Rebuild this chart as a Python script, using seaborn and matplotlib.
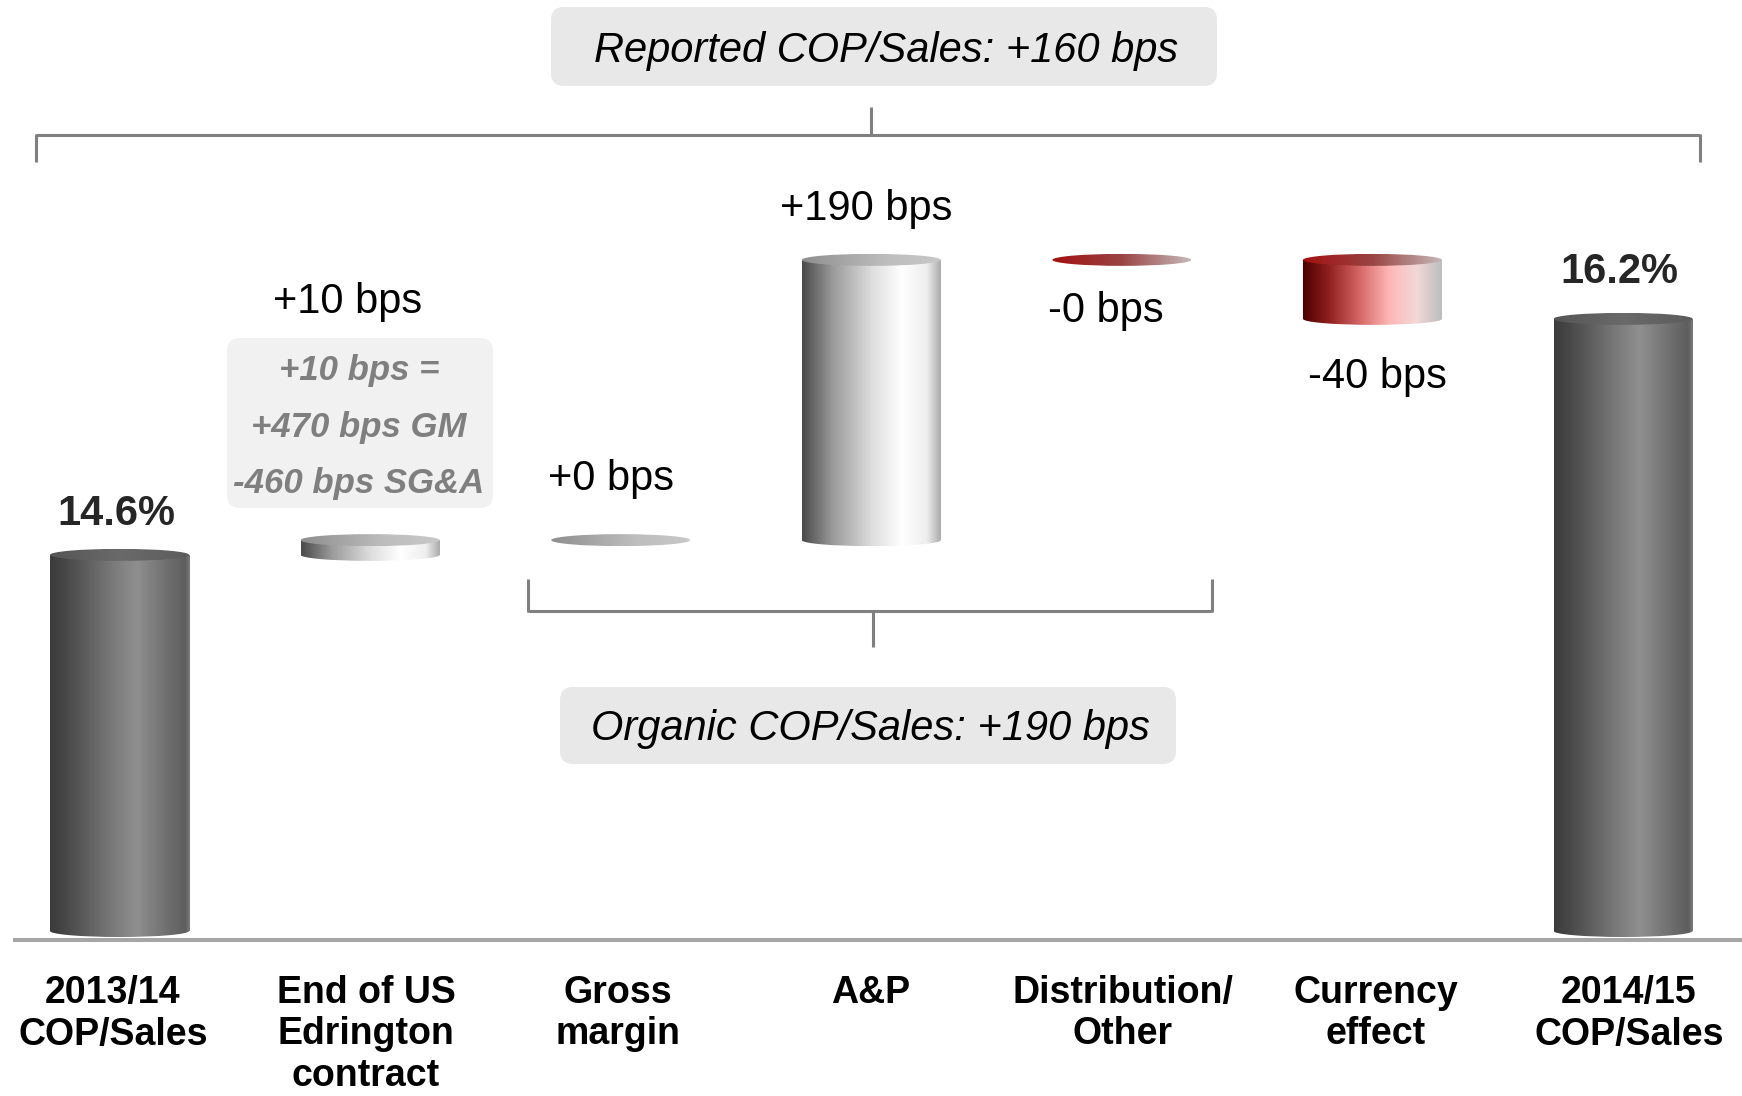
import numpy as np
import pandas as pd
import matplotlib
matplotlib.use("Agg")
import matplotlib.pyplot as plt
import seaborn as sns
from matplotlib.colors import LinearSegmentedColormap
from matplotlib.patches import Rectangle, Ellipse, FancyBboxPatch
from matplotlib.lines import Line2D
from matplotlib.transforms import IdentityTransform

# ---------------------------------------------------------------- data
categories = ["2013/14\nCOP/Sales", "End of US\nEdrington\ncontract", "Gross\nmargin",
              "A&P", "Distribution/\nOther", "Currency\neffect", "2014/15\nCOP/Sales"]
start_margin = 14.6          # COP/Sales 2013/14, %
end_margin = 16.2            # COP/Sales 2014/15, %
change_bps = [10, 0, 190, 0, -40]
change_sign = ["up", "up", "up", "down", "down"]
change_labels = ["+10 bps", "+0 bps", "+190 bps", "-0 bps", "-40 bps"]
total_labels = ["14.6%", "16.2%"]
reported_text = "Reported COP/Sales: +160 bps"
organic_text = "Organic COP/Sales: +190 bps"
edrington_note = ["+10 bps =", "+470 bps GM", "-460 bps SG&A"]

# ---------------------------------------------------------------- layout
W, H = 1742, 1096
AXIS_FLOOR = 12.05           # value at the foot of the columns
FLOOR_PX, PX_PER_PCT = 931, 147.5
X0_PX, STEP_PX = 119.5, 250.6
CAP_H = 12 / PX_PER_PCT      # height of the elliptical caps in data units

# waterfall geometry
bottoms, heights, kinds = [AXIS_FLOOR], [start_margin - AXIS_FLOOR], ["total"]
level = start_margin
for d, s in zip(change_bps, change_sign):
    new = level + d / 100
    bottoms.append(min(level, new))
    heights.append(abs(new - level))
    kinds.append(s)
    level = new
bottoms.append(AXIS_FLOOR)
heights.append(end_margin - AXIS_FLOOR)
kinds.append("total")

df = pd.DataFrame({"step": categories, "height": heights})

sns.set_theme(style="white")
plt.rcParams["font.family"] = ["Liberation Sans", "DejaVu Sans"]

fig = plt.figure(figsize=(W / 100, H / 100), dpi=100)
fig.patch.set_facecolor("white")
ax = fig.add_axes([0, 0, 1, 1])

sns.barplot(data=df, x="step", y="height", order=categories, bottom=bottoms,
            width=139 / STEP_PX, errorbar=None, color="white", ax=ax)

# shading for each kind of column: body gradient, cap gradient
body_stops = {
    "total": [(0, "#3a3a3a"), (0.2, "#555555"), (0.45, "#7a7a7a"), (0.62, "#8f8f8f"),
              (0.86, "#6c6c6c"), (0.97, "#5e5e5e"), (1, "#7a7a7a")],
    "up": [(0, "#4a4a4a"), (0.22, "#9a9a9a"), (0.5, "#dddddd"), (0.72, "#ffffff"),
           (0.9, "#eeeeee"), (1, "#ababab")],
    "down": [(0, "#4d0000"), (0.18, "#8e1e1e"), (0.4, "#d46464"), (0.62, "#ffb6b6"),
             (0.82, "#f2d8d8"), (1, "#bdbdbd")],
}
cap_stops = {
    "total": [(0, "#555555"), (0.5, "#6a6a6a"), (1, "#5c5c5c")],
    "up": [(0, "#8e8e8e"), (0.6, "#bdbdbd"), (1, "#c8c8c8")],
    "down": [(0, "#a31010"), (0.5, "#9a4444"), (1, "#c6b8b8")],
}


def shade(clip, extent, stops, z):
    cmap = LinearSegmentedColormap.from_list("shade", stops)
    img = cmap(np.linspace(0, 1, 256))[None, :, :]
    im = ax.imshow(img, extent=extent, aspect="auto", origin="lower",
                   interpolation="bilinear", zorder=z)
    im.set_clip_path(clip)


for patch, kind in zip(ax.patches, kinds):
    patch.set_facecolor("none")
    patch.set_edgecolor("none")
    x0, w = patch.get_x(), patch.get_width()
    y0, h = patch.get_y(), patch.get_height()
    xc = x0 + w / 2
    if h > 1e-9:
        body = Rectangle((x0, y0), w, h, transform=ax.transData)
        shade(body, (x0, x0 + w, y0, y0 + h), body_stops[kind], 2)
        foot = Ellipse((xc, y0), w, CAP_H, transform=ax.transData)
        shade(foot, (x0, x0 + w, y0 - CAP_H / 2, y0 + CAP_H / 2), body_stops[kind], 2)
    top = y0 + h
    cap = Ellipse((xc, top), w, CAP_H, transform=ax.transData)
    shade(cap, (x0, x0 + w, top - CAP_H / 2, top + CAP_H / 2), cap_stops[kind], 3)

ax.set_xlim(-X0_PX / STEP_PX, (W - X0_PX) / STEP_PX)
ax.set_ylim(AXIS_FLOOR - (H - FLOOR_PX) / PX_PER_PCT, AXIS_FLOOR + FLOOR_PX / PX_PER_PCT)
ax.set_axis_off()


# ---------------------------------------------------------------- annotations (pixel layout)
def ptext(x, y, s, **kw):
    kw.setdefault("ha", "center")
    kw.setdefault("va", "baseline")
    fig.text(x / W, 1 - y / H, s, **kw)


def pline(xs, ys, color="#808080", lw=2.2):
    fig.add_artist(Line2D([x / W for x in xs], [1 - y / H for y in ys],
                          transform=fig.transFigure, color=color, lw=lw,
                          solid_capstyle="butt"))


def pbox(x0, y0, x1, y1, color):
    fig.add_artist(FancyBboxPatch((x0, H - y1), x1 - x0, y1 - y0,
                                  boxstyle="round,pad=0,rounding_size=13",
                                  transform=IdentityTransform(), facecolor=color,
                                  edgecolor="none", zorder=1))


# baseline
pline([13, W], [940, 940], color="#a6a6a6", lw=2.9)

# category names
cat_x = [113, 366, 618, 871, 1123, 1376, 1629]
for x, name in zip(cat_x, categories):
    for i, line in enumerate(name.split("\n")):
        ptext(x, 1003 + 41.5 * i, line, fontsize=27, fontweight="bold", color="black")

# totals
ptext(116, 525, total_labels[0], fontsize=30, fontweight="bold")
ptext(1619, 283, total_labels[1], fontsize=30, fontweight="bold")

# changes
change_pos = [(348, 313), (611, 490), (866, 220), (1106, 322), (1377, 388)]
for (x, y), lab in zip(change_pos, change_labels):
    ptext(x, y, lab, fontsize=30, color="black")

# Edrington breakdown
pbox(227, 338, 493, 508, "#f1f1f1")
for i, line in enumerate(edrington_note):
    ptext(359, 380 + 56.5 * i, line, fontsize=25, fontweight="bold", style="italic",
          color="#7f7f7f")

# reported bracket
pbox(551, 7, 1217, 86, "#e8e8e8")
ptext(886, 62, reported_text, fontsize=30, style="italic", color="black")
pline([36, 1700], [135, 135])
pline([36, 36], [134, 162])
pline([1700, 1700], [134, 162])
pline([871, 871], [107, 135])

# organic bracket
pline([528, 1212], [611, 611])
pline([528, 528], [579, 612])
pline([1212, 1212], [579, 612])
pline([873, 873], [611, 647])
pbox(560, 687, 1176, 764, "#e8e8e8")
ptext(870, 740, organic_text, fontsize=30, style="italic", color="black")

fig.savefig("out.png", dpi=100, facecolor="white")
